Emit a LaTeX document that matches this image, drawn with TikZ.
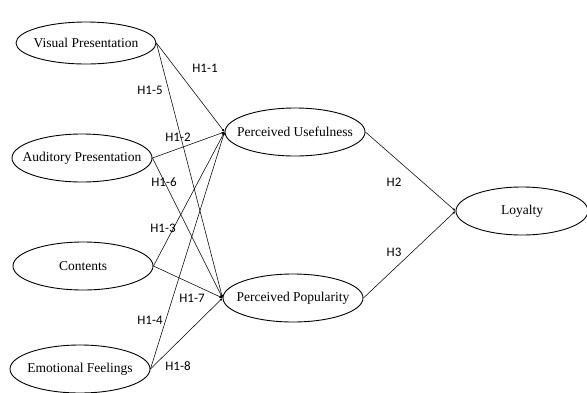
\documentclass[tikz,border=0pt]{standalone}
\usepackage{fontspec}
\setmainfont{Liberation Serif}
\newfontfamily\hypfont{Carlito}
\usetikzlibrary{arrows, arrows.meta, shapes.geometric}
\newcommand{\cname}[1]{\makebox[0pt]{#1}}

\begin{document}
\begin{tikzpicture}[x=1pt, y=-1pt, >={Latex[length=3pt, width=2.4pt]},
                        construct/.style={ellipse, draw, line width=0.9pt, minimum width=140pt, minimum height=48pt, inner sep=0pt, font=\fontsize{13.5}{16}\selectfont},
                        hyp/.style={inner sep=0pt, font=\hypfont\fontsize{13}{15}\selectfont}]
                        \useasboundingbox (0, 0) rectangle (587, 392);
                        \node[construct, minimum height=42pt] (vp) at (86, 43) {\cname{Visual Presentation}};
                        \node[construct] (ap) at (82, 158) {\cname{Auditory Presentation}};
                        \node[construct] (ct) at (83, 266) {\cname{Contents}};
                        \node[construct] (ef) at (80, 369) {\cname{Emotional Feelings}};
                        \node[construct] (pu) at (295, 132) {\cname{Perceived Usefulness}};
                        \node[construct] (pp) at (293, 298) {\cname{Perceived Popularity}};
                        \node[construct, minimum width=132pt] (ly) at (522, 211) {\cname{Loyalty}};
                        \node[hyp] (h11) at (205, 68) {H1-1};
                        \node[hyp] (h15) at (150, 90) {H1-5};
                        \node[hyp] (h12) at (178, 137) {H1-2};
                        \node[hyp] (h16) at (164, 182) {H1-6};
                        \node[hyp] (h13) at (163, 228) {H1-3};
                        \node[hyp] (h17) at (192, 298) {H1-7};
                        \node[hyp] (h14) at (150, 320) {H1-4};
                        \node[hyp] (h18) at (178, 366) {H1-8};
                        \node[hyp] (h2) at (394, 182) {H2};
                        \node[hyp] (h3) at (394, 252) {H3};
                        \draw[line width=0.55pt]
                        (vp.east) edge[->] (pu.west)
                        (vp.east) edge[->] (pp.west)
                        (ap.east) edge[->] (pu.west)
                        (ap.east) edge[->] (pp.west)
                        (ct.east) edge[->] (pu.west)
                        (ct.east) edge[->] (pp.west)
                        (ef.east) edge[->] (pu.west)
                        (ef.east) edge[->] (pp.west)
                        (pu.east) edge[->] (ly.west)
                        (pp.east) edge[->] (ly.west);
                    \end{tikzpicture}
\end{document}
